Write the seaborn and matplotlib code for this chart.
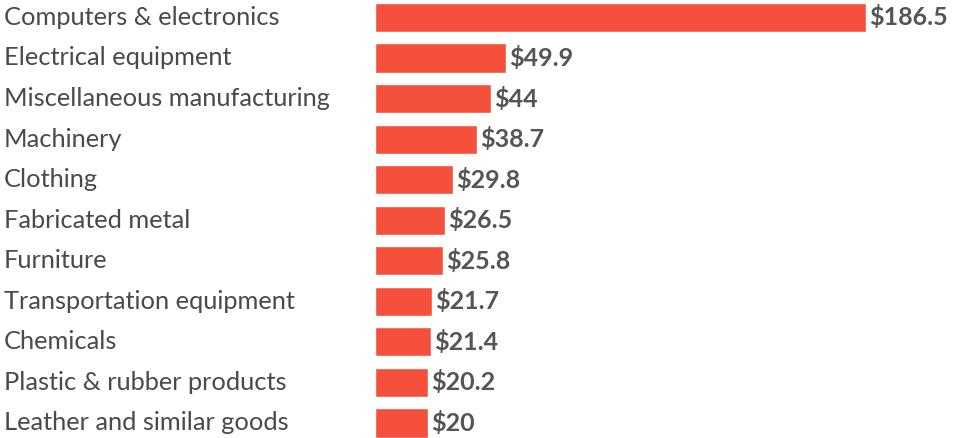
import matplotlib
matplotlib.use("Agg")
import matplotlib.pyplot as plt
import seaborn as sns
import pandas as pd

# data (billions of dollars)
categories = ["Computers & electronics", "Electrical equipment",
              "Miscellaneous manufacturing", "Machinery", "Clothing",
              "Fabricated metal", "Furniture", "Transportation equipment",
              "Chemicals", "Plastic & rubber products",
              "Leather and similar goods"]
values = [186.5, 49.9, 44, 38.7, 29.8, 26.5, 25.8, 21.7, 21.4, 20.2, 20]
value_labels = ["$186.5", "$49.9", "$44", "$38.7", "$29.8", "$26.5",
                "$25.8", "$21.7", "$21.4", "$20.2", "$20"]

df = pd.DataFrame({"category": categories, "value": values})

sns.set_style("white")
plt.rcParams['font.family'] = ['Lato', 'DejaVu Sans']

fig = plt.figure(figsize=(9.54, 4.38), dpi=100)
ax = fig.add_axes([375/954, 0, 579/954, 1])

sns.barplot(data=df, x="value", y="category", orient="h", color="#f5503b",
            saturation=1, width=0.72, ax=ax)

# value labels to the right of each bar
for i, (v, lab) in enumerate(zip(values, value_labels)):
    ax.text(v + 1.2, i, lab, va="center", ha="left", fontsize=18,
            fontweight="bold", color="#555555")

ax.set_xlim(0, 220)
ax.set_ylim(10.37, -0.43)
ax.set_xlabel("")
ax.set_ylabel("")
ax.set_xticks([])
ax.set_yticks([])
sns.despine(ax=ax, left=True, bottom=True)

# category names, left aligned at the figure edge
for i, c in enumerate(categories):
    ax.annotate(c, xy=(0, i), xycoords=("figure pixels", "data"),
                xytext=(4, 0), textcoords="offset pixels",
                va="center", ha="left", fontsize=18.3, color="#4a4a4a")

fig.savefig("out.png", dpi=100)
